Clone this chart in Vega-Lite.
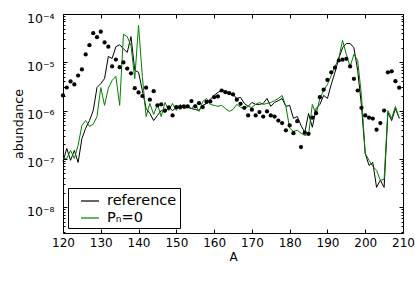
{
  "$schema": "https://vega.github.io/schema/vega-lite/v6.json",
  "width": 340,
  "height": 219,
  "autosize": {"type": "none"},
  "padding": {"left": 63, "top": 14, "right": 12, "bottom": 49},
  "background": "white",
  "config": {
    "font": "DejaVu Sans",
    "view": {"stroke": "black", "strokeWidth": 1},
    "axis": {"grid": false, "domain": false, "labelFont": "DejaVu Sans", "labelFontSize": 12, "labelColor": "black", "titleFont": "DejaVu Sans", "titleFontSize": 12, "titleFontWeight": "normal", "titleColor": "black", "tickColor": "black", "tickWidth": 1}
  },
  "datasets": {
    "lines": [
      {"A":120,"series":"reference","v":8.8e-8},{"A":121,"series":"reference","v":1.64e-7},{"A":122,"series":"reference","v":9.3e-8},{"A":123,"series":"reference","v":1.49e-7},{"A":124,"series":"reference","v":8.4e-8},{"A":125,"series":"reference","v":2.6e-7},{"A":126,"series":"reference","v":4.3e-7},{"A":127,"series":"reference","v":6.2e-7},{"A":128,"series":"reference","v":1.0e-6},{"A":129,"series":"reference","v":3.0e-6},{"A":130,"series":"reference","v":3.6e-6},{"A":131,"series":"reference","v":4.6e-6},{"A":132,"series":"reference","v":1.32e-5},{"A":133,"series":"reference","v":1.2e-5},{"A":134,"series":"reference","v":2.1e-5},{"A":135,"series":"reference","v":2.3e-5},{"A":136,"series":"reference","v":1.9e-5},{"A":137,"series":"reference","v":1.6e-5},{"A":138,"series":"reference","v":3.4e-5},{"A":139,"series":"reference","v":6.8e-6},{"A":140,"series":"reference","v":6.2e-6},{"A":141,"series":"reference","v":2.6e-6},{"A":142,"series":"reference","v":1.1e-6},{"A":143,"series":"reference","v":8.7e-7},{"A":144,"series":"reference","v":6.2e-7},{"A":145,"series":"reference","v":7.9e-7},{"A":146,"series":"reference","v":1.0e-6},{"A":147,"series":"reference","v":9.1e-7},{"A":148,"series":"reference","v":1.16e-6},{"A":149,"series":"reference","v":1.0e-6},{"A":150,"series":"reference","v":1.16e-6},{"A":151,"series":"reference","v":1.28e-6},{"A":152,"series":"reference","v":1.1e-6},{"A":153,"series":"reference","v":1.16e-6},{"A":154,"series":"reference","v":1.1e-6},{"A":155,"series":"reference","v":1.05e-6},{"A":156,"series":"reference","v":1.0e-6},{"A":157,"series":"reference","v":1.28e-6},{"A":158,"series":"reference","v":1.4e-6},{"A":159,"series":"reference","v":1.7e-6},{"A":160,"series":"reference","v":2.05e-6},{"A":161,"series":"reference","v":2.37e-6},{"A":162,"series":"reference","v":2.6e-6},{"A":163,"series":"reference","v":2.5e-6},{"A":164,"series":"reference","v":2.37e-6},{"A":165,"series":"reference","v":2.16e-6},{"A":166,"series":"reference","v":1.78e-6},{"A":167,"series":"reference","v":1.87e-6},{"A":168,"series":"reference","v":1.4e-6},{"A":169,"series":"reference","v":1.22e-6},{"A":170,"series":"reference","v":1.47e-6},{"A":171,"series":"reference","v":1.34e-6},{"A":172,"series":"reference","v":1.34e-6},{"A":173,"series":"reference","v":1.4e-6},{"A":174,"series":"reference","v":1.78e-6},{"A":175,"series":"reference","v":1.22e-6},{"A":176,"series":"reference","v":1.47e-6},{"A":177,"series":"reference","v":1.6e-6},{"A":178,"series":"reference","v":1.78e-6},{"A":179,"series":"reference","v":1.22e-6},{"A":180,"series":"reference","v":1.28e-6},{"A":181,"series":"reference","v":6.9e-7},{"A":182,"series":"reference","v":7.5e-7},{"A":183,"series":"reference","v":4.9e-7},{"A":184,"series":"reference","v":3.5e-7},{"A":185,"series":"reference","v":8.7e-7},{"A":186,"series":"reference","v":4.5e-7},{"A":187,"series":"reference","v":1.1e-6},{"A":188,"series":"reference","v":1.34e-6},{"A":189,"series":"reference","v":2.06e-6},{"A":190,"series":"reference","v":1.78e-6},{"A":191,"series":"reference","v":3.47e-6},{"A":192,"series":"reference","v":6.2e-6},{"A":193,"series":"reference","v":1.2e-5},{"A":194,"series":"reference","v":2.0e-5},{"A":195,"series":"reference","v":2.45e-5},{"A":196,"series":"reference","v":2.45e-5},{"A":197,"series":"reference","v":2.0e-5},{"A":198,"series":"reference","v":6.8e-6},{"A":199,"series":"reference","v":1.28e-6},{"A":200,"series":"reference","v":1.29e-7},{"A":201,"series":"reference","v":7.3e-8},{"A":202,"series":"reference","v":8.4e-8},{"A":203,"series":"reference","v":2.56e-8},{"A":204,"series":"reference","v":3.6e-8},{"A":205,"series":"reference","v":2.56e-8},{"A":206,"series":"reference","v":9.1e-7},{"A":207,"series":"reference","v":6.2e-7},{"A":208,"series":"reference","v":1.1e-6},{"A":209,"series":"reference","v":6.9e-7},
      {"A":120,"series":"Pₙ=0","v":1.02e-7},{"A":121,"series":"Pₙ=0","v":1.02e-7},{"A":122,"series":"Pₙ=0","v":1.49e-7},{"A":123,"series":"Pₙ=0","v":1.02e-7},{"A":124,"series":"Pₙ=0","v":1.9e-7},{"A":125,"series":"Pₙ=0","v":4.9e-7},{"A":126,"series":"Pₙ=0","v":6.2e-7},{"A":127,"series":"Pₙ=0","v":4.7e-7},{"A":128,"series":"Pₙ=0","v":5.2e-7},{"A":129,"series":"Pₙ=0","v":7.5e-7},{"A":130,"series":"Pₙ=0","v":3.0e-6},{"A":131,"series":"Pₙ=0","v":1.28e-6},{"A":132,"series":"Pₙ=0","v":2.9e-6},{"A":133,"series":"Pₙ=0","v":4.2e-6},{"A":134,"series":"Pₙ=0","v":5.1e-6},{"A":135,"series":"Pₙ=0","v":1.28e-6},{"A":136,"series":"Pₙ=0","v":3.8e-5},{"A":137,"series":"Pₙ=0","v":3.4e-5},{"A":138,"series":"Pₙ=0","v":2.2e-5},{"A":139,"series":"Pₙ=0","v":4.6e-6},{"A":140,"series":"Pₙ=0","v":5.8e-5},{"A":141,"series":"Pₙ=0","v":5.1e-6},{"A":142,"series":"Pₙ=0","v":7.5e-7},{"A":143,"series":"Pₙ=0","v":1.4e-6},{"A":144,"series":"Pₙ=0","v":8.3e-7},{"A":145,"series":"Pₙ=0","v":1.34e-6},{"A":146,"series":"Pₙ=0","v":7.5e-7},{"A":147,"series":"Pₙ=0","v":1.47e-6},{"A":148,"series":"Pₙ=0","v":1.0e-6},{"A":149,"series":"Pₙ=0","v":1.4e-6},{"A":150,"series":"Pₙ=0","v":1.0e-6},{"A":151,"series":"Pₙ=0","v":1.34e-6},{"A":152,"series":"Pₙ=0","v":1.16e-6},{"A":153,"series":"Pₙ=0","v":1.28e-6},{"A":154,"series":"Pₙ=0","v":1.1e-6},{"A":155,"series":"Pₙ=0","v":1.34e-6},{"A":156,"series":"Pₙ=0","v":9.6e-7},{"A":157,"series":"Pₙ=0","v":1.54e-6},{"A":158,"series":"Pₙ=0","v":1.78e-6},{"A":159,"series":"Pₙ=0","v":1.34e-6},{"A":160,"series":"Pₙ=0","v":1.28e-6},{"A":161,"series":"Pₙ=0","v":1.22e-6},{"A":162,"series":"Pₙ=0","v":1.28e-6},{"A":163,"series":"Pₙ=0","v":1.1e-6},{"A":164,"series":"Pₙ=0","v":9.6e-7},{"A":165,"series":"Pₙ=0","v":1.05e-6},{"A":166,"series":"Pₙ=0","v":1.34e-6},{"A":167,"series":"Pₙ=0","v":1.16e-6},{"A":168,"series":"Pₙ=0","v":1.1e-6},{"A":169,"series":"Pₙ=0","v":1.22e-6},{"A":170,"series":"Pₙ=0","v":1.16e-6},{"A":171,"series":"Pₙ=0","v":1.34e-6},{"A":172,"series":"Pₙ=0","v":1.47e-6},{"A":173,"series":"Pₙ=0","v":1.34e-6},{"A":174,"series":"Pₙ=0","v":1.4e-6},{"A":175,"series":"Pₙ=0","v":1.47e-6},{"A":176,"series":"Pₙ=0","v":1.6e-6},{"A":177,"series":"Pₙ=0","v":1.78e-6},{"A":178,"series":"Pₙ=0","v":2.05e-6},{"A":179,"series":"Pₙ=0","v":1.22e-6},{"A":180,"series":"Pₙ=0","v":4.3e-7},{"A":181,"series":"Pₙ=0","v":3.7e-7},{"A":182,"series":"Pₙ=0","v":3.9e-7},{"A":183,"series":"Pₙ=0","v":3.4e-7},{"A":184,"series":"Pₙ=0","v":3.05e-7},{"A":185,"series":"Pₙ=0","v":3.2e-7},{"A":186,"series":"Pₙ=0","v":1.34e-6},{"A":187,"series":"Pₙ=0","v":8.3e-7},{"A":188,"series":"Pₙ=0","v":1.78e-6},{"A":189,"series":"Pₙ=0","v":2.6e-6},{"A":190,"series":"Pₙ=0","v":3.47e-6},{"A":191,"series":"Pₙ=0","v":5.3e-6},{"A":192,"series":"Pₙ=0","v":8.2e-6},{"A":193,"series":"Pₙ=0","v":1.2e-5},{"A":194,"series":"Pₙ=0","v":2.83e-5},{"A":195,"series":"Pₙ=0","v":1.45e-5},{"A":196,"series":"Pₙ=0","v":8.2e-6},{"A":197,"series":"Pₙ=0","v":1.45e-5},{"A":198,"series":"Pₙ=0","v":1.1e-5},{"A":199,"series":"Pₙ=0","v":2.06e-6},{"A":200,"series":"Pₙ=0","v":1.29e-7},{"A":201,"series":"Pₙ=0","v":9.3e-8},{"A":202,"series":"Pₙ=0","v":7.0e-8},{"A":203,"series":"Pₙ=0","v":5.75e-8},{"A":204,"series":"Pₙ=0","v":3.6e-8},{"A":205,"series":"Pₙ=0","v":3.75e-8},{"A":206,"series":"Pₙ=0","v":1.0e-6},{"A":207,"series":"Pₙ=0","v":6.9e-7},{"A":208,"series":"Pₙ=0","v":1.22e-6},{"A":209,"series":"Pₙ=0","v":6.9e-7}
    ],
    "dots": [
      {"A":120,"v":2.06e-6},{"A":121,"v":3.0e-6},{"A":122,"v":4.0e-6},{"A":123,"v":3.47e-6},{"A":124,"v":5.3e-6},{"A":125,"v":7.1e-6},{"A":126,"v":1.45e-5},{"A":127,"v":2.26e-5},{"A":128,"v":4.0e-5},{"A":129,"v":3.3e-5},{"A":130,"v":4.3e-5},{"A":131,"v":2.57e-5},{"A":132,"v":2.1e-5},{"A":133,"v":8.2e-6},{"A":134,"v":1.14e-5},{"A":135,"v":7.9e-6},{"A":136,"v":9.9e-6},{"A":137,"v":7.4e-6},{"A":138,"v":5.9e-6},{"A":139,"v":2.9e-6},{"A":140,"v":2.37e-6},{"A":141,"v":2.0e-6},{"A":142,"v":2.97e-6},{"A":143,"v":1.68e-6},{"A":144,"v":2.52e-6},{"A":145,"v":1.28e-6},{"A":146,"v":1.34e-6},{"A":147,"v":1.0e-6},{"A":148,"v":1.16e-6},{"A":149,"v":7.9e-7},{"A":150,"v":1.18e-6},{"A":151,"v":1.16e-6},{"A":152,"v":1.22e-6},{"A":153,"v":1.22e-6},{"A":154,"v":1.57e-6},{"A":155,"v":1.22e-6},{"A":156,"v":1.42e-6},{"A":157,"v":1.18e-6},{"A":158,"v":1.51e-6},{"A":159,"v":1.54e-6},{"A":160,"v":1.89e-6},{"A":161,"v":1.96e-6},{"A":162,"v":2.6e-6},{"A":163,"v":2.4e-6},{"A":164,"v":2.29e-6},{"A":165,"v":2.16e-6},{"A":166,"v":1.68e-6},{"A":167,"v":1.38e-6},{"A":168,"v":1.14e-6},{"A":169,"v":7.9e-7},{"A":170,"v":1.04e-6},{"A":171,"v":7.9e-7},{"A":172,"v":9.3e-7},{"A":173,"v":7.5e-7},{"A":174,"v":9.6e-7},{"A":175,"v":7.9e-7},{"A":176,"v":7.5e-7},{"A":177,"v":6.2e-7},{"A":178,"v":5.5e-7},{"A":179,"v":3.9e-7},{"A":180,"v":4.9e-7},{"A":181,"v":3.4e-7},{"A":182,"v":6.0e-7},{"A":183,"v":1.75e-7},{"A":184,"v":3.47e-7},{"A":185,"v":3.3e-7},{"A":186,"v":7.1e-7},{"A":187,"v":8.8e-7},{"A":188,"v":1.89e-6},{"A":189,"v":2.7e-6},{"A":190,"v":4.3e-6},{"A":191,"v":6.2e-6},{"A":192,"v":7.7e-6},{"A":193,"v":1.09e-5},{"A":194,"v":1.13e-5},{"A":195,"v":1.18e-5},{"A":196,"v":8.2e-6},{"A":197,"v":4.55e-6},{"A":198,"v":2.6e-6},{"A":199,"v":1.14e-6},{"A":200,"v":7.9e-7},{"A":201,"v":7.1e-7},{"A":202,"v":6.8e-7},{"A":203,"v":4.0e-7},{"A":204,"v":5.5e-7},{"A":205,"v":1.0e-6},{"A":206,"v":6.2e-6},{"A":207,"v":6.5e-6},{"A":208,"v":4.06e-6},{"A":209,"v":2.97e-6}
    ]
  },
  "layer": [
    {
      "data": {"name": "lines"},
      "mark": {"type": "line", "strokeWidth": 1},
      "encoding": {
        "x": {"field": "A", "type": "quantitative",
              "scale": {"domain": [120, 210], "nice": false, "zero": false},
              "axis": {"orient": "bottom", "values": [120,130,140,150,160,170,180,190,200,210], "tickSize": -4, "labelPadding": 8, "labelFlush": false, "title": "A", "titlePadding": 3}},
        "y": {"field": "v", "type": "quantitative",
              "scale": {"type": "log", "domain": [2.9e-9, 1e-4], "nice": false},
              "axis": {"orient": "left", "values": [1e-8, 1e-7, 1e-6, 1e-5, 1e-4], "tickSize": -4, "labelPadding": 13, "labelOffset": 4, "labelFontSize": 12.5,
                       "labelExpr": "datum.value > 5e-5 ? '10⁻⁴' : datum.value > 5e-6 ? '10⁻⁵' : datum.value > 5e-7 ? '10⁻⁶' : datum.value > 5e-8 ? '10⁻⁷' : '10⁻⁸'",
                       "title": "abundance", "titleFontSize": 12.6, "titlePadding": 1}},
        "color": {"field": "series", "type": "nominal",
                  "scale": {"domain": ["reference", "Pₙ=0"], "range": ["#000000", "#008000"]},
                  "legend": {"orient": "bottom-left", "offset": 5, "title": null, "symbolType": "stroke", "symbolSize": 324, "symbolStrokeWidth": 1.2, "labelFontSize": 14.5, "labelFont": "DejaVu Sans", "labelColor": "black", "strokeColor": "black", "fillColor": "white", "padding": 3, "symbolOffset": 9, "labelOffset": 7, "rowPadding": 0}}
      }
    },
    {
      "data": {"name": "dots"},
      "mark": {"type": "circle", "color": "black", "size": 18, "opacity": 1},
      "encoding": {
        "x": {"field": "A", "type": "quantitative",
              "axis": {"orient": "top", "values": [120,130,140,150,160,170,180,190,200,210], "tickSize": -4, "labels": false, "title": null}},
        "y": {"field": "v", "type": "quantitative",
              "axis": {"orient": "right", "values": [1e-8, 1e-7, 1e-6, 1e-5, 1e-4], "tickSize": -4, "labels": false, "title": null}}
      }
    },
    {
      "data": {"name": "dots"},
      "mark": {"type": "point", "opacity": 0},
      "encoding": {
        "x": {"field": "A", "type": "quantitative", "axis": null},
        "y": {"field": "v", "type": "quantitative",
              "axis": {"orient": "left", "values": [3e-9,4e-9,5e-9,6e-9,7e-9,8e-9,9e-9,2e-8,3e-8,4e-8,5e-8,6e-8,7e-8,8e-8,9e-8,2e-7,3e-7,4e-7,5e-7,6e-7,7e-7,8e-7,9e-7,2e-6,3e-6,4e-6,5e-6,6e-6,7e-6,8e-6,9e-6,2e-5,3e-5,4e-5,5e-5,6e-5,7e-5,8e-5,9e-5], "tickSize": -2, "labels": false, "title": null}}
      }
    },
    {
      "data": {"name": "dots"},
      "mark": {"type": "point", "opacity": 0},
      "encoding": {
        "x": {"field": "A", "type": "quantitative", "axis": null},
        "y": {"field": "v", "type": "quantitative",
              "axis": {"orient": "right", "values": [3e-9,4e-9,5e-9,6e-9,7e-9,8e-9,9e-9,2e-8,3e-8,4e-8,5e-8,6e-8,7e-8,8e-8,9e-8,2e-7,3e-7,4e-7,5e-7,6e-7,7e-7,8e-7,9e-7,2e-6,3e-6,4e-6,5e-6,6e-6,7e-6,8e-6,9e-6,2e-5,3e-5,4e-5,5e-5,6e-5,7e-5,8e-5,9e-5], "tickSize": -2, "labels": false, "title": null}}
      }
    }
  ],
  "resolve": {"axis": {"x": "independent", "y": "independent"}}
}
